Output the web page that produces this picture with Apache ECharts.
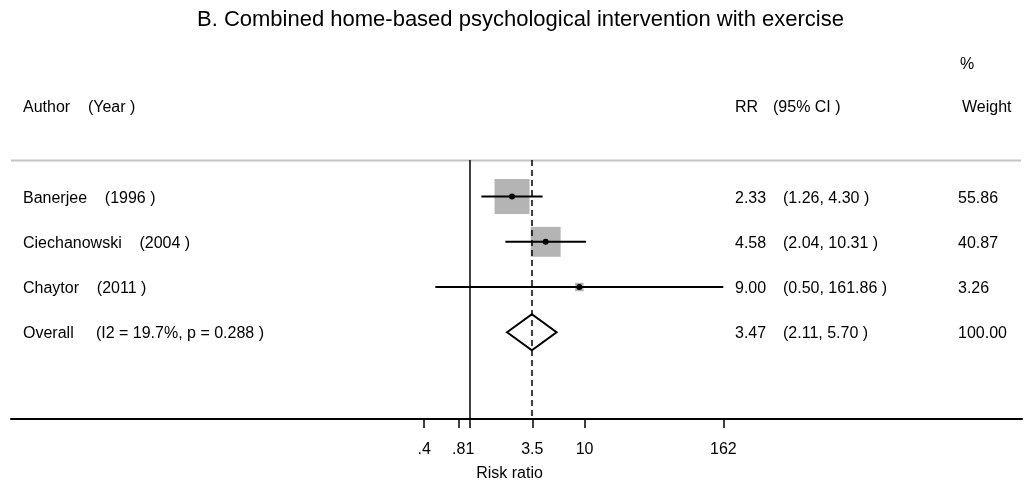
<!DOCTYPE html>
<html>
<head>
<meta charset="utf-8">
<title>Forest plot</title>
<script src="https://cdn.jsdelivr.net/npm/echarts@6/dist/echarts.min.js"></script>
<style>
  html, body { margin: 0; padding: 0; background: #fff; }
  #chart { width: 1025px; height: 487px; }
</style>
</head>
<body>
<div id="chart"></div>
<script>
// Studies and pooled estimate (risk ratios with 95% CI, % weight)
const authors = ['Banerjee', 'Ciechanowski', 'Chaytor', 'Overall'];
const years = ['(1996 )', '(2004 )', '(2011 )', '(I2 = 19.7%, p = 0.288 )'];
const rr = [2.33, 4.58, 9.00, 3.47];
const ciLow = [1.26, 2.04, 0.50, 2.11];
const ciHigh = [4.30, 10.31, 161.86, 5.70];
const weights = [55.86, 40.87, 3.26, 100.00];
const isPooled = [false, false, false, true];

// Axis ticks
const tickValues = [0.4, 0.8, 1, 3.5, 10, 162];

const FONT = '"Liberation Sans", Arial, Helvetica, sans-serif';
const TEXT_SIZE = 16;
const TEXT_DY = 1.5;
const COL_NAME = 23;
const COL_RR = 735;
const COL_CI = 783;
const COL_W = 958;
const BOX_SCALE = 4.68;

const fmt2 = v => v.toFixed(2);
const stataNum = v => (v < 1 ? String(v).replace(/^0/, '') : String(v));

const rows = authors.map((a, i) => [rr[i], i + 1, ciLow[i], ciHigh[i], weights[i], i]);

function textEl(x, y, str) {
  return {
    type: 'text',
    style: {
      x: x, y: y + TEXT_DY, text: str,
      font: TEXT_SIZE + 'px ' + FONT,
      fill: '#000',
      align: 'left',
      verticalAlign: 'middle'
    }
  };
}

function renderRow(params, api) {
  const idx = api.value(5);
  const est = api.coord([api.value(0), api.value(1)]);
  const lo = api.coord([api.value(2), api.value(1)]);
  const hi = api.coord([api.value(3), api.value(1)]);
  const y = est[1];
  const children = [];

  if (isPooled[idx]) {
    const h = 18;
    children.push({
      type: 'polygon',
      shape: { points: [[lo[0], y], [est[0], y - h], [hi[0], y], [est[0], y + h]] },
      style: { fill: '#fff', stroke: '#000', lineWidth: 2 }
    });
  } else {
    const side = BOX_SCALE * Math.sqrt(api.value(4));
    children.push({
      type: 'rect',
      shape: { x: est[0] - side / 2, y: y - side / 2, width: side, height: side },
      style: { fill: '#b4b4b4', stroke: null }
    });
    children.push({
      type: 'line',
      shape: { x1: lo[0], y1: y, x2: hi[0], y2: y },
      style: { stroke: '#000', lineWidth: 2 }
    });
    children.push({
      type: 'circle',
      shape: { cx: est[0], cy: y, r: 3 },
      style: { fill: '#000' }
    });
  }

  const nameStr = authors[idx] + (isPooled[idx] ? '     ' : '    ') + years[idx];
  children.push(textEl(COL_NAME, y, nameStr));
  children.push(textEl(COL_RR, y, fmt2(rr[idx])));
  children.push(textEl(COL_CI, y, '(' + fmt2(ciLow[idx]) + ', ' + fmt2(ciHigh[idx]) + ' )'));
  children.push(textEl(COL_W, y, fmt2(weights[idx])));

  return { type: 'group', children: children };
}

const chart = echarts.init(document.getElementById('chart'), null, { renderer: 'canvas' });

const headerStyle = (text) => ({ text: text, font: TEXT_SIZE + 'px ' + FONT, fill: '#000', verticalAlign: 'middle' });

chart.setOption({
  animation: false,
  backgroundColor: '#fff',
  textStyle: { fontFamily: FONT },
  grid: { left: 11, right: 3, top: 160, bottom: 68, containLabel: false },
  xAxis: {
    type: 'log',
    logBase: 10,
    min: 1e-4,
    max: 6.5e4,
    name: 'Risk ratio',
    nameLocation: 'middle',
    nameGap: 47,
    nameTextStyle: { color: '#000', fontSize: TEXT_SIZE, fontFamily: FONT, padding: [0, 14, 0, 0] },
    axisLine: { show: true, lineStyle: { color: '#000', width: 2 } },
    axisTick: { show: true, length: 9, inside: false, lineStyle: { color: '#000', width: 1.5 }, customValues: tickValues },
    axisLabel: {
      show: true, color: '#000', fontSize: TEXT_SIZE, fontFamily: FONT, margin: 23,
      customValues: tickValues,
      formatter: v => stataNum(v)
    },
    splitLine: { show: false },
    minorTick: { show: false }
  },
  yAxis: {
    type: 'value',
    inverse: true,
    min: 0.19,
    max: 5.92,
    show: false
  },
  graphic: [
    {
      type: 'text', left: 197, top: 9,
      style: { text: 'B. Combined home-based psychological intervention with exercise', font: '22px ' + FONT, fill: '#000' }
    },
    { type: 'text', x: 23, y: 107.5, style: headerStyle('Author    (Year )') },
    { type: 'text', x: 735, y: 107.5, style: headerStyle('RR') },
    { type: 'text', x: 773, y: 107.5, style: headerStyle('(95% CI )') },
    { type: 'text', x: 960, y: 65, style: headerStyle('%') },
    { type: 'text', x: 962, y: 107.5, style: headerStyle('Weight') },
    { type: 'line', shape: { x1: 11, y1: 160.5, x2: 1021, y2: 160.5 }, style: { stroke: '#c4c4c4', lineWidth: 2 } }
  ],
  series: [
    {
      type: 'custom',
      coordinateSystem: 'cartesian2d',
      renderItem: renderRow,
      data: rows,
      clip: false,
      z: 3,
      markLine: {
        silent: true,
        symbol: 'none',
        label: { show: false },
        data: [
          { xAxis: 1, lineStyle: { color: '#000', width: 1.5, type: 'solid' } },
          { xAxis: rr[3], lineStyle: { color: '#000', width: 1.5, type: [6, 4] } }
        ]
      }
    }
  ]
});
</script>
</body>
</html>
